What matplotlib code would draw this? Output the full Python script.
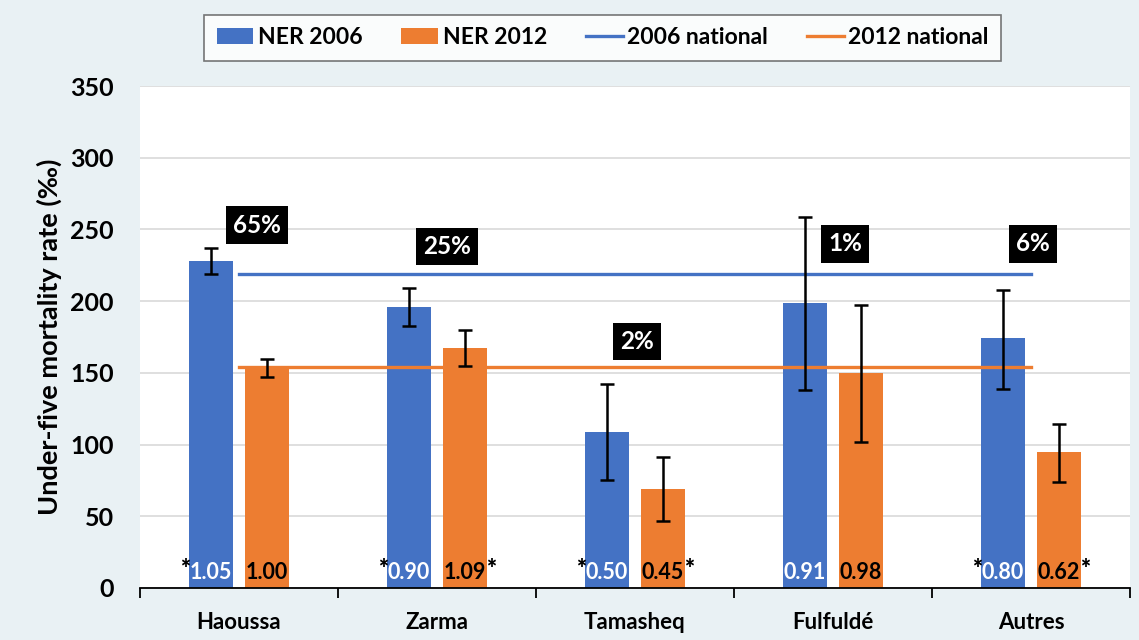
import matplotlib.pyplot as plt
from matplotlib.patches import Patch
from matplotlib.lines import Line2D
import numpy as np

plt.rcParams['font.family'] = ['Lato', 'DejaVu Sans']
plt.rcParams['font.weight'] = 'bold'

# Data
groups = ['Haoussa', 'Zarma', 'Tamasheq', 'Fulfuldé', 'Autres']
ner_2006 = [228, 196, 109, 199, 174]
ner_2006_lo = [219, 183, 75, 138, 139]
ner_2006_hi = [237, 209, 142, 259, 208]
ner_2012 = [154, 167, 69, 150, 95]
ner_2012_lo = [147, 155, 47, 102, 74]
ner_2012_hi = [160, 180, 91, 197, 114]
national_2006 = 219
national_2012 = 154
ratio_2006 = ['1.05', '0.90', '0.50', '0.91', '0.80']
ratio_2012 = ['1.00', '1.09', '0.45', '0.98', '0.62']
star_2006 = [True, True, True, False, True]
star_2012 = [False, True, True, False, True]
shares = ['65%', '25%', '2%', '1%', '6%']
share_pos = [(0.09, 253), (1.05, 238), (2.01, 172), (3.06, 240), (4.01, 240)]

blue = '#4472C4'
orange = '#ED7D31'
bg = '#E9F1F4'

fig = plt.figure(figsize=(11.39, 6.4), dpi=100, facecolor=bg)
ax = fig.add_axes([0.1229, 0.0813, 0.8692, 0.7843])
ax.set_facecolor('white')

x = np.arange(len(groups))
w = 0.22
off = 0.142

e06 = [np.array(ner_2006) - np.array(ner_2006_lo), np.array(ner_2006_hi) - np.array(ner_2006)]
e12 = [np.array(ner_2012) - np.array(ner_2012_lo), np.array(ner_2012_hi) - np.array(ner_2012)]

ax.bar(x - off, ner_2006, w, color=blue, zorder=2)
ax.bar(x + off, ner_2012, w, color=orange, zorder=2)
ax.errorbar(x - off, ner_2006, yerr=e06, fmt='none', ecolor='black', elinewidth=1.8,
            capsize=5, capthick=1.8, zorder=4)
ax.errorbar(x + off, ner_2012, yerr=e12, fmt='none', ecolor='black', elinewidth=1.8,
            capsize=5, capthick=1.8, zorder=4)

ax.plot([x[0], x[-1]], [national_2006, national_2006], color=blue, lw=2.4, zorder=3)
ax.plot([x[0], x[-1]], [national_2012, national_2012], color=orange, lw=2.4, zorder=3)

# ratio labels at bar bottoms
for i in range(len(groups)):
    ax.text(x[i] - off, 11, ratio_2006[i], color='white', fontsize=15.5, ha='center',
            va='center', fontweight='bold', zorder=5)
    ax.text(x[i] + off, 11, ratio_2012[i], color='black', fontsize=15.5, ha='center',
            va='center', fontweight='bold', zorder=5)
    if star_2006[i]:
        ax.text(x[i] - off - w / 2 + 0.005, 13, '*', color='black', fontsize=17, ha='right',
                va='center', fontweight='heavy', zorder=5)
    if star_2012[i]:
        ax.text(x[i] + off + w / 2 - 0.005, 13, '*', color='black', fontsize=17, ha='left',
                va='center', fontweight='heavy', zorder=5)

for s, (px, py) in zip(shares, share_pos):
    ax.text(px, py, s, color='white', fontsize=17.5, ha='center', va='center', fontweight='bold',
            zorder=6, bbox=dict(boxstyle='square,pad=0.3', facecolor='black', edgecolor='none'))

ax.set_xlim(-0.5, 4.5)
ax.set_ylim(0, 350)
ax.set_yticks(np.arange(0, 351, 50))
ax.yaxis.grid(True, color='#D9D9D9', lw=1.2)
ax.set_axisbelow(True)
ax.tick_params(axis='y', length=0, labelsize=18, pad=19)
for lab in ax.get_yticklabels():
    lab.set_fontweight('bold')

ax.set_xticks(x)
ax.set_xticklabels(groups, fontsize=16, fontweight='bold')
ax.tick_params(axis='x', which='major', length=0, pad=17)
ax.set_xticks(np.arange(-0.5, 4.6, 1), minor=True)
ax.tick_params(axis='x', which='minor', length=7, width=1.3, direction='out', color='black')

for sp in ['top', 'right', 'left']:
    ax.spines[sp].set_visible(False)
ax.spines['bottom'].set_color('black')
ax.spines['bottom'].set_linewidth(1.3)

ax.set_ylabel('Under-five mortality rate (‰)', fontsize=19.5, fontweight='bold', labelpad=6)

handles = [Patch(facecolor=blue), Patch(facecolor=orange),
           Line2D([0], [0], color=blue, lw=2.4), Line2D([0], [0], color=orange, lw=2.4)]
labels = ['NER 2006', 'NER 2012', '2006 national', '2012 national']
leg = fig.legend(handles, labels, loc='center', bbox_to_anchor=(0.529, 0.941), ncol=4,
                 frameon=True, fancybox=False, edgecolor='#555555',
                 handlelength=1.6, handletextpad=0.2, columnspacing=1.7,
                 borderpad=0.55, prop={'weight': 'bold', 'size': 16.5})
leg.get_frame().set_linewidth(1.2)

fig.savefig('out.png', dpi=100, facecolor=bg)
